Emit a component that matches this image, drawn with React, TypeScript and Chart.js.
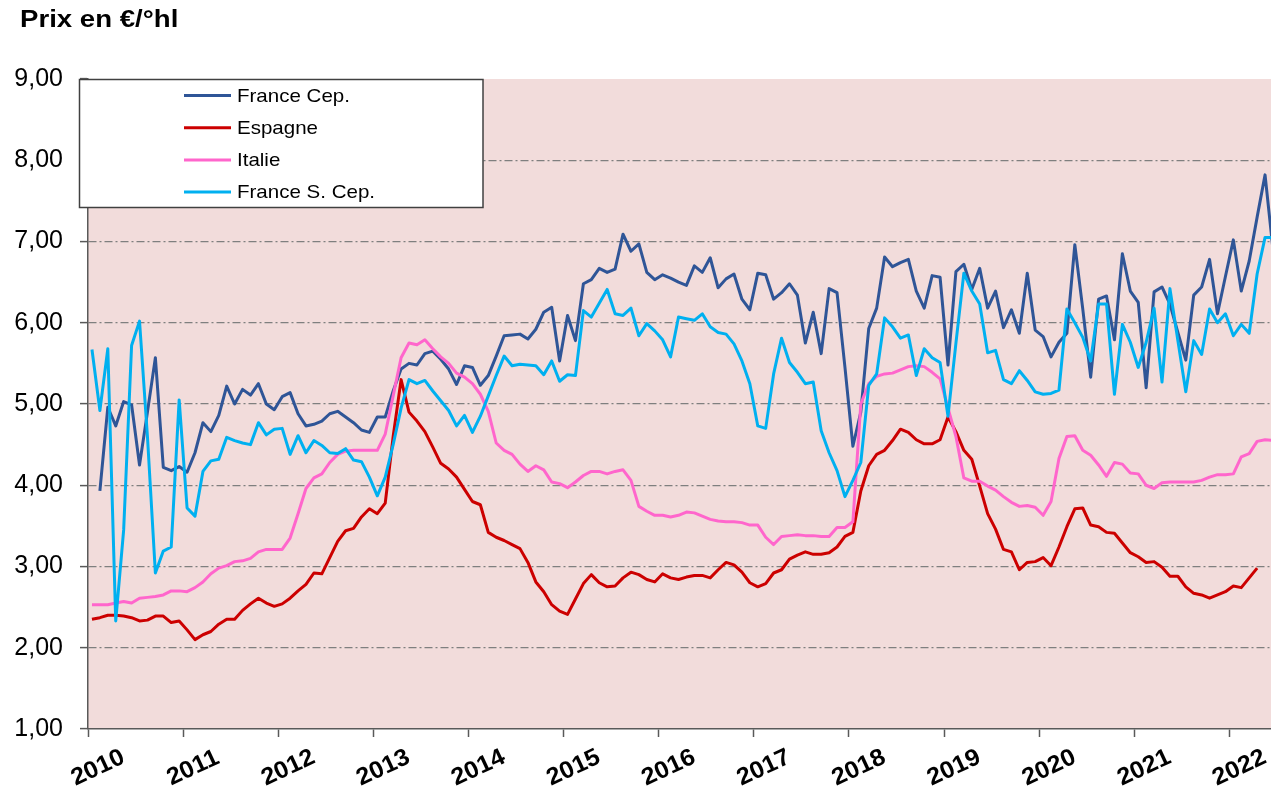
import React, { useEffect, useRef } from "react";
import { Chart, registerables } from "chart.js";

Chart.register(...registerables);

// ---- Data (monthly, Jan 2010 .. Jun 2022) ----
const YEAR_LABELS = ["2010", "2011", "2012", "2013", "2014", "2015", "2016", "2017", "2018", "2019", "2020", "2021", "2022"];
const SERIES_NAMES = ["France Cep.", "Espagne", "Italie", "France S. Cep."];
const SERIES_COLORS = ["#2F5597", "#CC0000", "#FF66CC", "#00B0F0"];
const Y_MIN = 1;
const Y_MAX = 9;

const FRANCE_CEP: (number | null)[] = [
  null, 3.93, 4.96, 4.73, 5.03, 4.99, 4.25, 4.9, 5.57, 4.22, 4.18, 4.23,
  4.16, 4.40, 4.77, 4.66, 4.86, 5.22, 5.00, 5.18, 5.11, 5.25, 5.00, 4.93,
  5.09, 5.14, 4.88, 4.73, 4.75, 4.79, 4.88, 4.91, 4.84, 4.77, 4.68, 4.65,
  4.84, 4.84, 5.16, 5.43, 5.50, 5.48, 5.62, 5.65, 5.55, 5.43, 5.24, 5.47,
  5.45, 5.23, 5.35, 5.59, 5.84, 5.85, 5.86, 5.80, 5.92, 6.13, 6.19, 5.53,
  6.09, 5.78, 6.48, 6.53, 6.67, 6.62, 6.66, 7.09, 6.88, 6.97, 6.62, 6.53,
  6.59, 6.55, 6.50, 6.46, 6.70, 6.62, 6.80, 6.43, 6.54, 6.60, 6.29, 6.16,
  6.61, 6.59, 6.29, 6.37, 6.48, 6.34, 5.75, 6.13, 5.62, 6.42, 6.37, 5.45,
  4.48, 4.9, 5.93, 6.18, 6.81, 6.69, 6.74, 6.78, 6.39, 6.18, 6.58, 6.56,
  5.48, 6.63, 6.72, 6.41, 6.67, 6.18, 6.39, 5.94, 6.16, 5.87, 6.61, 5.91,
  5.83, 5.58, 5.76, 5.87, 6.96, 6.17, 5.33, 6.29, 6.33, 5.79, 6.85, 6.39,
  6.25, 5.20, 6.38, 6.44, 6.23, 5.88, 5.54, 6.34, 6.44, 6.78, 6.11, 6.57,
  7.02, 6.39, 6.76, 7.30, 7.82, 6.9,
];

const ESPAGNE: (number | null)[] = [
  2.35, 2.37, 2.40, 2.40, 2.39, 2.37, 2.33, 2.34, 2.39, 2.39, 2.31, 2.33,
  2.22, 2.10, 2.16, 2.20, 2.29, 2.35, 2.35, 2.46, 2.54, 2.61, 2.55, 2.51,
  2.54, 2.61, 2.70, 2.78, 2.92, 2.91, 3.11, 3.31, 3.44, 3.47, 3.61, 3.71,
  3.65, 3.78, 4.6, 5.30, 4.90, 4.79, 4.66, 4.47, 4.27, 4.20, 4.10, 3.95,
  3.80, 3.76, 3.42, 3.36, 3.32, 3.27, 3.22, 3.05, 2.81, 2.69, 2.53, 2.45,
  2.41, 2.60, 2.79, 2.90, 2.80, 2.75, 2.76, 2.86, 2.93, 2.90, 2.84, 2.81,
  2.91, 2.86, 2.84, 2.87, 2.89, 2.89, 2.86, 2.96, 3.05, 3.02, 2.93, 2.80,
  2.75, 2.79, 2.92, 2.96, 3.09, 3.14, 3.18, 3.15, 3.15, 3.17, 3.24, 3.37,
  3.42, 3.93, 4.24, 4.38, 4.43, 4.55, 4.69, 4.65, 4.56, 4.51, 4.51, 4.56,
  4.84, 4.66, 4.43, 4.32, 3.99, 3.65, 3.46, 3.21, 3.18, 2.96, 3.05, 3.06,
  3.11, 3.01, 3.24, 3.49, 3.71, 3.72, 3.51, 3.49, 3.42, 3.41, 3.29, 3.17,
  3.12, 3.05, 3.06, 2.99, 2.88, 2.88, 2.75, 2.67, 2.65, 2.61, 2.65, 2.69,
  2.76, 2.74, 2.86, 2.98, null, null,
];

const ITALIE: (number | null)[] = [
  2.53, 2.53, 2.53, 2.55, 2.57, 2.55, 2.61, 2.62, 2.63, 2.65, 2.70, 2.70,
  2.69, 2.74, 2.81, 2.91, 2.98, 3.01, 3.06, 3.07, 3.10, 3.18, 3.21, 3.21,
  3.21, 3.35, 3.65, 3.96, 4.09, 4.14, 4.28, 4.38, 4.42, 4.43, 4.43, 4.43,
  4.43, 4.63, 5.1, 5.57, 5.75, 5.73, 5.79, 5.68, 5.58, 5.50, 5.38, 5.33,
  5.25, 5.12, 4.91, 4.52, 4.43, 4.38, 4.26, 4.17, 4.24, 4.19, 4.04, 4.02,
  3.97, 4.04, 4.12, 4.17, 4.17, 4.14, 4.17, 4.19, 4.06, 3.74, 3.68, 3.63,
  3.63, 3.61, 3.63, 3.67, 3.66, 3.62, 3.58, 3.56, 3.55, 3.55, 3.54, 3.51,
  3.51, 3.36, 3.27, 3.37, 3.38, 3.39, 3.38, 3.38, 3.37, 3.37, 3.48, 3.48,
  3.55, 5.0, 5.25, 5.34, 5.37, 5.38, 5.42, 5.46, 5.47, 5.46, 5.39, 5.31,
  4.95, 4.60, 4.09, 4.05, 4.05, 3.99, 3.94, 3.86, 3.79, 3.74, 3.75, 3.73,
  3.63, 3.80, 4.33, 4.60, 4.61, 4.43, 4.37, 4.25, 4.11, 4.28, 4.26, 4.15,
  4.14, 4.00, 3.96, 4.03, 4.04, 4.04, 4.04, 4.04, 4.06, 4.10, 4.13, 4.13,
  4.14, 4.35, 4.39, 4.54, 4.56, 4.55,
];

const FRANCE_S_CEP: (number | null)[] = [
  5.67, 4.92, 5.68, 2.33, 3.45, 5.72, 6.02, 4.6, 2.92, 3.19, 3.24, 5.05,
  3.72, 3.62, 4.17, 4.30, 4.32, 4.59, 4.55, 4.52, 4.50, 4.77, 4.62, 4.69,
  4.70, 4.38, 4.61, 4.40, 4.55, 4.49, 4.40, 4.39, 4.45, 4.31, 4.29, 4.1,
  3.87, 4.10, 4.5, 4.95, 5.30, 5.25, 5.29, 5.16, 5.04, 4.92, 4.73, 4.86,
  4.65, 4.85, 5.1, 5.35, 5.59, 5.47, 5.49, 5.48, 5.47, 5.36, 5.53, 5.28,
  5.36, 5.35, 6.15, 6.07, 6.24, 6.41, 6.11, 6.09, 6.18, 5.84, 5.99, 5.90,
  5.79, 5.58, 6.07, 6.05, 6.03, 6.11, 5.95, 5.88, 5.86, 5.74, 5.53, 5.25,
  4.73, 4.70, 5.37, 5.81, 5.51, 5.39, 5.25, 5.27, 4.67, 4.40, 4.18, 3.86,
  4.06, 4.28, 5.23, 5.37, 6.06, 5.95, 5.81, 5.85, 5.35, 5.68, 5.57, 5.51,
  4.85, 5.75, 6.61, 6.39, 6.23, 5.63, 5.66, 5.30, 5.25, 5.41, 5.29, 5.15,
  5.12, 5.13, 5.17, 6.17, 6.00, 5.82, 5.53, 6.23, 6.23, 5.12, 5.98, 5.76,
  5.45, 5.76, 6.18, 5.27, 6.42, 5.78, 5.15, 5.78, 5.61, 6.17, 6.00, 6.11,
  5.84, 5.98, 5.87, 6.60, 7.05, 7.05,
];

const FONT = '"Liberation Sans", Arial, sans-serif';

const toPoints = (arr: (number | null)[]) => arr.map((v, i) => ({ x: i, y: v }));

const decorPlugin = {
  id: "decor",
  beforeDraw(chart: any) {
    const { ctx, chartArea: a } = chart;
    ctx.save();
    ctx.fillStyle = "#ffffff";
    ctx.fillRect(0, 0, chart.width, chart.height);
    ctx.fillStyle = "#F2DCDB";
    ctx.fillRect(a.left, a.top, a.right - a.left, a.bottom - a.top);
    ctx.restore();
  },
  afterDraw(chart: any) {
    const { ctx } = chart;
    ctx.save();
    // Title
    ctx.fillStyle = "#000";
    ctx.font = `bold 24px ${FONT}`;
    ctx.textBaseline = "alphabetic";
    ctx.textAlign = "left";
    ctx.save();
    ctx.translate(20, 27);
    ctx.scale(1.15, 1);
    ctx.fillText("Prix en €/°hl", 0, 0);
    ctx.restore();

    // Legend box
    ctx.fillStyle = "#ffffff";
    ctx.fillRect(79, 79, 404, 128);
    ctx.strokeStyle = "#404040";
    ctx.lineWidth = 1.5;
    ctx.strokeRect(79.5, 79.5, 403.5, 128);
    chart.data.datasets.forEach((ds: any, r: number) => {
      const y = 95.5 + r * 32.2;
      ctx.strokeStyle = ds.borderColor;
      ctx.lineWidth = 3;
      ctx.beginPath();
      ctx.moveTo(184, y);
      ctx.lineTo(231, y);
      ctx.stroke();
      ctx.fillStyle = "#000";
      ctx.font = `19px ${FONT}`;
      ctx.textBaseline = "middle";
      ctx.save();
      ctx.translate(237, y + 1);
      ctx.scale(1.08, 1);
      ctx.fillText(ds.label, 0, 0);
      ctx.restore();
    });

    // X tick labels (rotated)
    const xs = chart.scales.x;
    ctx.fillStyle = "#000";
    ctx.font = `bold 24px ${FONT}`;
    ctx.textAlign = "center";
    ctx.textBaseline = "middle";
    xs.ticks.forEach((t: any, k: number) => {
      const px = xs.getPixelForValue(t.value);
      ctx.save();
      ctx.translate(px + 10, 768);
      ctx.rotate((-25 * Math.PI) / 180);
      ctx.scale(1.05, 1);
      ctx.fillText(YEAR_LABELS[k], 0, 0);
      ctx.restore();
    });
    ctx.restore();
  },
};

export default function App() {
  const canvasRef = useRef<HTMLCanvasElement | null>(null);

  useEffect(() => {
    document.body.style.margin = "0";
    document.body.style.overflow = "hidden";
    const canvas = canvasRef.current;
    if (!canvas) return;
    const seriesData = [FRANCE_CEP, ESPAGNE, ITALIE, FRANCE_S_CEP];
    const drawOrder = [3, 2, 1, 0];
    const chart = new Chart(canvas, {
      type: "line",
      data: {
        datasets: seriesData.map((arr, i) => ({
          label: SERIES_NAMES[i],
          data: toPoints(arr),
          borderColor: SERIES_COLORS[i],
          backgroundColor: SERIES_COLORS[i],
          borderWidth: 3,
          pointRadius: 0,
          tension: 0,
          spanGaps: false,
          order: drawOrder[i],
          borderJoinStyle: "round" as const,
        })),
      },
      options: {
        animation: false,
        responsive: false,
        devicePixelRatio: 1,
        layout: { padding: { top: 79, left: 0, right: 0, bottom: 0 } },
        plugins: {
          legend: { display: false },
          tooltip: { enabled: false },
          title: { display: false },
        },
        scales: {
          x: {
            type: "linear",
            min: -0.5,
            max: 148.75,
            afterBuildTicks: (scale: any) => {
              scale.ticks = YEAR_LABELS.map((_, k) => ({ value: 12 * k - 0.5 }));
            },
            afterFit: (scale: any) => {
              scale.height = 58;
            },
            ticks: { display: false },
            grid: {
              drawOnChartArea: false,
              drawTicks: true,
              tickLength: 8,
              tickColor: "#595959",
              tickWidth: 1.5,
            },
            border: { display: true, color: "#595959", width: 1.5 },
          },
          y: {
            type: "linear",
            min: Y_MIN,
            max: Y_MAX,
            afterFit: (scale: any) => {
              scale.width = 88;
            },
            ticks: {
              stepSize: 1,
              padding: 17,
              color: "#000",
              font: { family: FONT, size: 25 },
              callback: (v: any) => Number(v).toFixed(2).replace(".", ","),
            },
            grid: {
              drawOnChartArea: true,
              drawTicks: true,
              tickLength: 8,
              tickColor: "#595959",
              tickWidth: 1.5,
              lineWidth: 1.2,
              color: (ctx: any) =>
                ctx.tick && (ctx.tick.value === Y_MAX || ctx.tick.value === Y_MIN)
                  ? "rgba(0,0,0,0)"
                  : "#7F7F7F",
            },
            border: { display: true, color: "#595959", width: 1.5, dash: [8, 3, 2, 3] },
          },
        },
      },
      plugins: [decorPlugin],
    });
    return () => chart.destroy();
  }, []);

  return (
    <div style={{ position: "fixed", left: 0, top: 0, width: 1271, height: 787, overflow: "hidden" }}>
      <canvas ref={canvasRef} width={1271} height={787} style={{ width: 1271, height: 787, display: "block" }} />
    </div>
  );
}
